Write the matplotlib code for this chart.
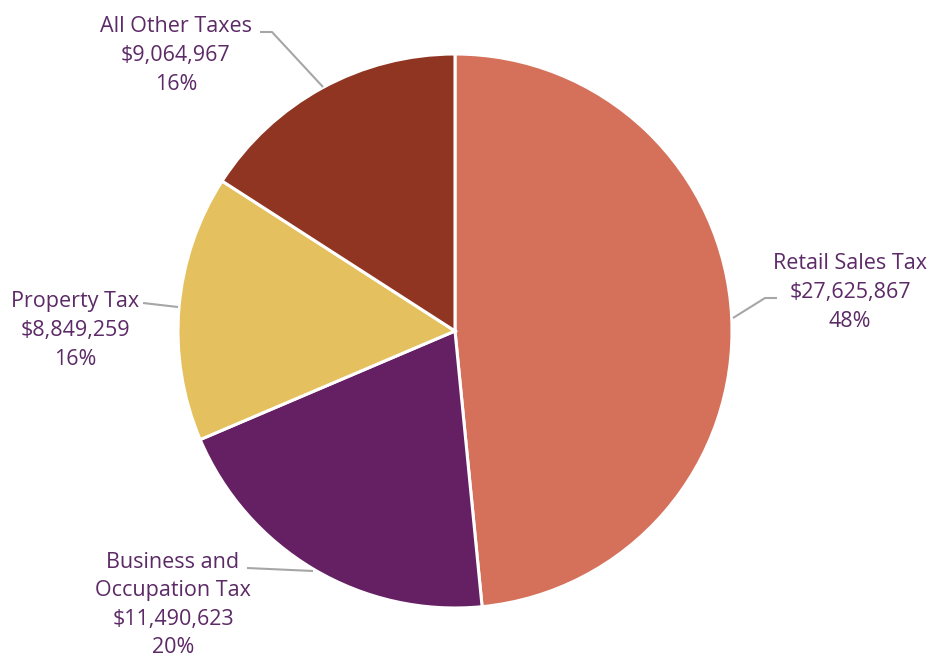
import matplotlib.pyplot as plt

# Tax revenue by source
categories = ["Retail Sales Tax", "Business and\nOccupation Tax", "Property Tax", "All Other Taxes"]
amounts = [27625867, 11490623, 8849259, 9064967]
percent_labels = ["48%", "20%", "16%", "16%"]
colors = ["#D5715A", "#652064", "#E4C15E", "#8F3522"]

W, H = 934, 657
fig = plt.figure(figsize=(W / 100, H / 100), dpi=100)
ax = fig.add_axes([0, 0, 1, 1])

cx, cy, r = 455, H - 331, 277
ax.pie(
    amounts,
    colors=colors,
    startangle=90,
    counterclock=False,
    center=(cx, cy),
    radius=r,
    wedgeprops=dict(edgecolor="white", linewidth=2.2),
    frame=True,
)
ax.set_xlim(0, W)
ax.set_ylim(0, H)
ax.set_aspect("equal")
ax.axis("off")

text_color = "#5C2A66"
line_color = "#A6A6A6"

# label centres (pixels from top-left) and leader lines
label_pos = [(850, 292.5), (173, 605), (75, 330.5), (176, 55.5)]
leaders = [
    [(733, 318), (765, 298), (777, 298)],
    [(247, 568), (313, 571)],
    [(143, 303), (178, 307)],
    [(260, 32), (272, 32), (323, 87)],
]

for name, amt, pct, (x, y), pts in zip(categories, amounts, percent_labels, label_pos, leaders):
    ax.text(x, H - y, f"{name}\n${amt:,}\n{pct}", ha="center", va="center",
            fontsize=15.5, color=text_color, family="Open Sans", linespacing=1.47)
    xs = [p[0] for p in pts]
    ys = [H - p[1] for p in pts]
    ax.plot(xs, ys, color=line_color, lw=1.5, solid_capstyle="butt")

fig.savefig("out.png", dpi=100, facecolor="white")
